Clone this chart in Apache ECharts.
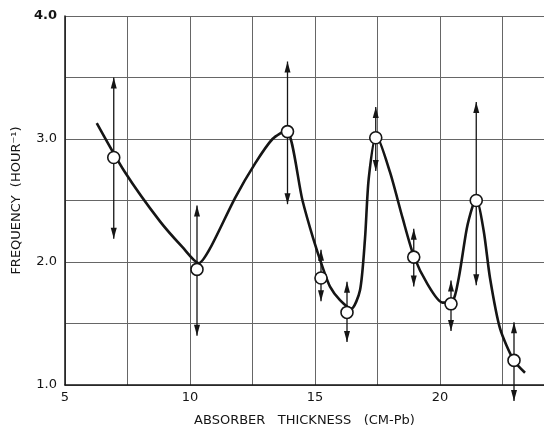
<!DOCTYPE html>
<html>
<head>
<meta charset="utf-8">
<script src="https://cdn.jsdelivr.net/npm/echarts@6/dist/echarts.min.js"></script>
<style>
  html, body { margin: 0; padding: 0; background: #fff; }
  #chart { width: 544px; height: 432px; }
</style>
</head>
<body>
<div id="chart"></div>
<script>
// measured points (absorber thickness, frequency) with error bar ends
const ptX = [6.95, 10.28, 13.9, 15.24, 16.28, 17.43, 18.95, 20.44, 21.45, 22.96]
const ptY = [2.85, 1.94, 3.06, 1.87, 1.59, 3.01, 2.04, 1.66, 2.50, 1.20]
const errHi = [3.50, 2.46, 3.63, 2.10, 1.84, 3.26, 2.27, 1.85, 3.30, 1.51]
const errLo = [2.19, 1.40, 2.47, 1.68, 1.35, 2.74, 1.80, 1.44, 1.81, 0.87]

// hand-drawn fitted curve
const curveX = [6.27, 7.4, 8.8, 9.7, 10.35, 10.8, 11.8, 12.6, 13.3, 13.85, 14.5, 14.93, 15.3, 15.6, 16.0, 16.45, 16.8, 17.0, 17.15, 17.45, 18.0, 18.5, 18.95, 19.5, 20.1, 20.5, 20.75, 21.07, 21.3, 21.45, 21.75, 22.0, 22.4, 22.95, 23.4]
const curveY = [3.13, 2.73, 2.33, 2.12, 1.99, 2.11, 2.52, 2.8, 3.0, 3.07, 2.5, 2.19, 1.96, 1.8, 1.69, 1.62, 1.77, 2.19, 2.68, 3.03, 2.73, 2.36, 2.05, 1.82, 1.67, 1.68, 1.87, 2.27, 2.45, 2.52, 2.25, 1.87, 1.46, 1.20, 1.10]

const xLabels = [5, 10, 15, 20]
const yLabels = [1, 2, 3, 4]

const ink = '#151515'
const font = 'DejaVu Sans'

const chart = echarts.init(document.getElementById('chart'), null, { renderer: 'canvas' })

const renderErr = (params, api) => {
  const x = api.value(0)
  const lo = api.coord([x, api.value(1)])
  const hi = api.coord([x, api.value(2)])
  const px = lo[0]
  const len = 11, hw = 3
  return {
    type: 'group',
    children: [
      { type: 'line', shape: { x1: px, y1: lo[1], x2: px, y2: hi[1] }, style: { stroke: ink, lineWidth: 1.3 } },
      { type: 'polygon', shape: { points: [[px, hi[1]], [px - hw, hi[1] + len], [px + hw, hi[1] + len]] }, style: { fill: ink } },
      { type: 'polygon', shape: { points: [[px, lo[1]], [px - hw, lo[1] - len], [px + hw, lo[1] - len]] }, style: { fill: ink } }
    ]
  }
}

chart.setOption({
  animation: false,
  grid: { left: 65, top: 16, right: 0, bottom: 44 },
  xAxis: {
    type: 'value',
    min: 5,
    max: 24.16,
    interval: 2.5,
    name: 'ABSORBER   THICKNESS   (CM-Pb)',
    nameLocation: 'middle',
    nameGap: 29,
    nameTextStyle: { fontFamily: font, fontSize: 13, color: ink },
    axisLine: { lineStyle: { color: ink, width: 1.5 } },
    axisTick: { show: false },
    axisLabel: {
      fontFamily: font, fontSize: 13, color: ink, margin: 6,
      showMaxLabel: false,
      formatter: v => (xLabels.includes(v) ? String(v) : '')
    },
    splitLine: { show: true, lineStyle: { color: '#666', width: 1 } }
  },
  yAxis: {
    type: 'value',
    min: 1,
    max: 4,
    interval: 0.5,
    name: 'FREQUENCY  (HOUR\u207B\u00B9)',
    nameLocation: 'middle',
    nameGap: 40,
    nameRotate: 90,
    nameTextStyle: { fontFamily: font, fontSize: 13, color: ink },
    axisLine: { show: true, lineStyle: { color: ink, width: 1.5 } },
    axisTick: { show: false },
    axisLabel: {
      fontFamily: font, fontSize: 13, color: ink, margin: 8,
      formatter: v => {
        if (!yLabels.includes(v)) return ''
        return v === 4 ? '{b|4.0}' : v.toFixed(1)
      },
      rich: { b: { fontFamily: font, fontSize: 13, fontWeight: 'bold', color: ink } }
    },
    splitLine: { show: true, lineStyle: { color: '#666', width: 1 } }
  },
  series: [
    {
      type: 'line',
      data: curveX.map((x, i) => [x, curveY[i]]),
      smooth: 0.25,
      showSymbol: false,
      lineStyle: { color: ink, width: 2.6 },
      z: 2
    },
    {
      type: 'custom',
      data: ptX.map((x, i) => [x, errLo[i], errHi[i]]),
      renderItem: renderErr,
      clip: false,
      z: 3
    },
    {
      type: 'scatter',
      data: ptX.map((x, i) => [x, ptY[i]]),
      symbol: 'circle',
      symbolSize: 12,
      itemStyle: { color: '#fff', borderColor: ink, borderWidth: 1.6, opacity: 1 },
      z: 4
    }
  ]
})
</script>
</body>
</html>
